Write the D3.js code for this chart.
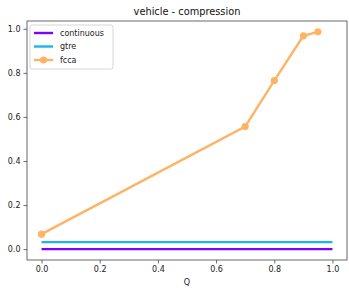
<!DOCTYPE html>
<html>
<head>
<meta charset="utf-8">
<script src="https://cdn.jsdelivr.net/npm/d3@7"></script>
<style>
  body { margin: 0; background: #fff; }
  svg { font-family: "DejaVu Sans", sans-serif; }
</style>
</head>
<body>
<svg id="chart"></svg>
<script>
// chart data
const qContinuous = [0, 1];
const valContinuous = [0, 0];
const qGtre = [0, 1];
const valGtre = [0.032, 0.032];
const qFcca = [0, 0.7, 0.8, 0.9, 0.95];
const valFcca = [0.068, 0.556, 0.765, 0.968, 0.986];
const xTicks = [0.0, 0.2, 0.4, 0.6, 0.8, 1.0];
const yTicks = [0.0, 0.2, 0.4, 0.6, 0.8, 1.0];
const seriesNames = ["continuous", "gtre", "fcca"];
const seriesColors = ["#8000ff", "#1cb4ec", "#ffb365"];

const width = 349, height = 288;
const margin = { top: 21, right: 2, bottom: 28, left: 27 };

const svg = d3.select("#chart")
  .attr("width", width)
  .attr("height", height);

const xScale = d3.scaleLinear()
  .domain([-0.05, 1.05])
  .range([margin.left, width - margin.right]);

const yScale = d3.scaleLinear()
  .domain([-0.0493, 1.0353])
  .range([height - margin.bottom, margin.top]);

// axes
const xAxis = d3.axisBottom(xScale).tickValues(xTicks).tickFormat(d3.format(".1f")).tickSize(3.5).tickPadding(3);
const yAxis = d3.axisLeft(yScale).tickValues(yTicks).tickFormat(d3.format(".1f")).tickSize(3.5).tickPadding(3);

const gx = svg.append("g")
  .attr("transform", `translate(0, ${height - margin.bottom})`)
  .call(xAxis);
const gy = svg.append("g")
  .attr("transform", `translate(${margin.left}, 0)`)
  .call(yAxis);

[gx, gy].forEach(g => {
  g.select(".domain").remove();
  g.selectAll(".tick line").attr("stroke", "#444").attr("stroke-width", 0.8);
  g.selectAll(".tick text").attr("fill", "#222").style("font-size", "8px").style("font-family", "DejaVu Sans");
});

// frame
svg.append("rect")
  .attr("x", margin.left)
  .attr("y", margin.top)
  .attr("width", width - margin.right - margin.left)
  .attr("height", height - margin.bottom - margin.top)
  .attr("fill", "none")
  .attr("stroke", "#444")
  .attr("stroke-width", 0.8);

const line = d3.line()
  .x(d => xScale(d[0]))
  .y(d => yScale(d[1]));

const seriesData = [
  d3.zip(qContinuous, valContinuous),
  d3.zip(qGtre, valGtre),
  d3.zip(qFcca, valFcca)
];

seriesData.forEach((pts, i) => {
  svg.append("path")
    .datum(pts)
    .attr("fill", "none")
    .attr("stroke", seriesColors[i])
    .attr("stroke-width", 2.4)
    .attr("d", line);
});

// fcca markers
svg.selectAll(".marker")
  .data(seriesData[2])
  .enter()
  .append("circle")
  .attr("class", "marker")
  .attr("cx", d => xScale(d[0]))
  .attr("cy", d => yScale(d[1]))
  .attr("r", 3.6)
  .attr("fill", seriesColors[2]);

// title and label
svg.append("text")
  .attr("x", (margin.left + width - margin.right) / 2)
  .attr("y", 15)
  .attr("text-anchor", "middle")
  .style("font-size", "9.8px")
  .attr("fill", "#111")
  .text("vehicle - compression");

svg.append("text")
  .attr("x", (margin.left + width - margin.right) / 2)
  .attr("y", 285)
  .attr("text-anchor", "middle")
  .style("font-size", "8px")
  .attr("fill", "#222")
  .text("Q");

// legend
const legend = svg.append("g").attr("transform", "translate(30, 25)");
legend.append("rect")
  .attr("width", 83)
  .attr("height", 44)
  .attr("rx", 2)
  .attr("fill", "#fff")
  .attr("fill-opacity", 0.8)
  .attr("stroke", "#ccc")
  .attr("stroke-width", 0.8);

seriesNames.forEach((name, i) => {
  const y = 8 + i * 13.5;
  legend.append("line")
    .attr("x1", 4).attr("x2", 23)
    .attr("y1", y).attr("y2", y)
    .attr("stroke", seriesColors[i])
    .attr("stroke-width", 2.4);
  if (name === "fcca") {
    legend.append("circle")
      .attr("cx", 13.5).attr("cy", y).attr("r", 3.6)
      .attr("fill", seriesColors[i]);
  }
  legend.append("text")
    .attr("x", 30)
    .attr("y", y + 2.9)
    .style("font-size", "8px")
    .attr("fill", "#222")
    .text(name);
});
</script>
</body>
</html>
